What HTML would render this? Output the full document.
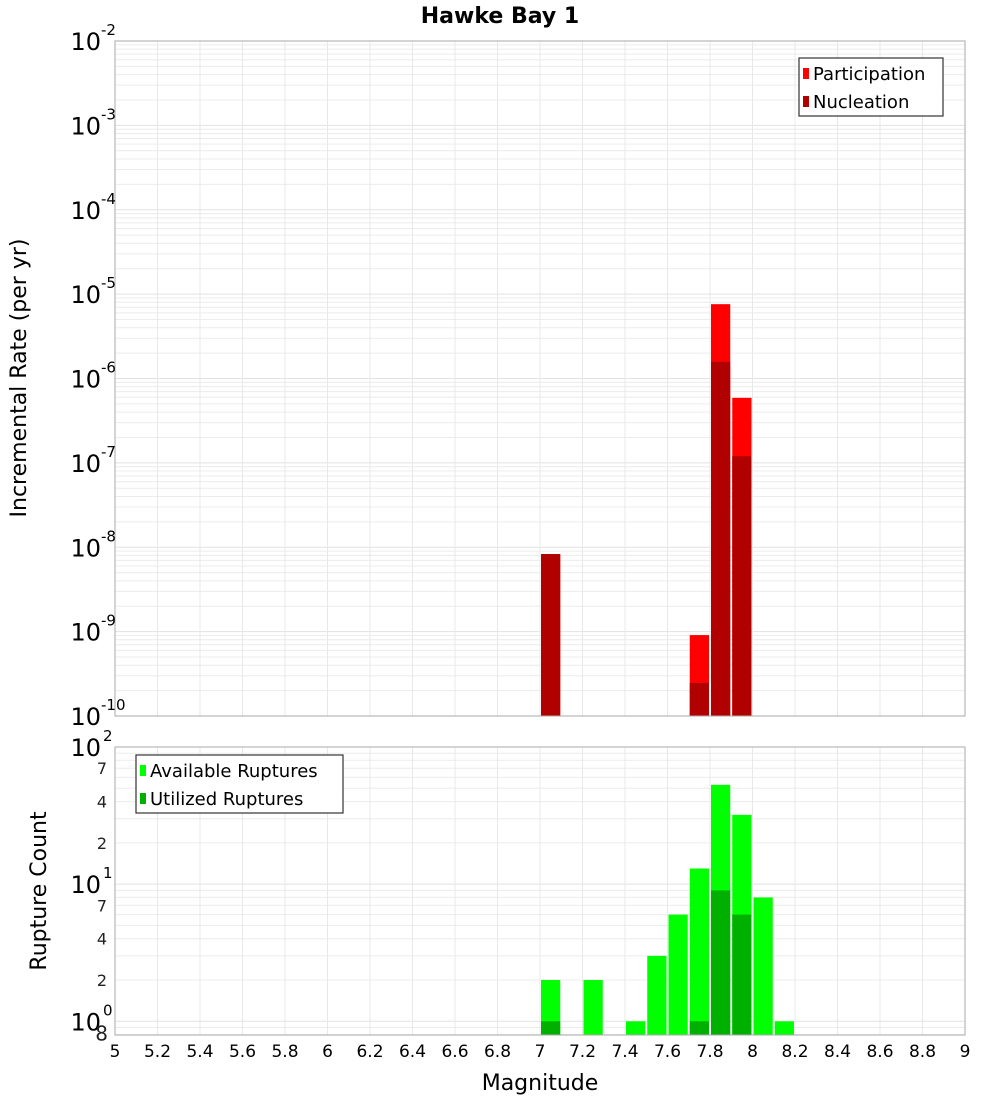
<!DOCTYPE html>
<html><head><meta charset="utf-8"><style>
body{margin:0;background:#fff;}
svg{display:block;font-family:"Liberation Sans","DejaVu Sans",sans-serif;}
</style></head><body>
<svg id="chart" width="1000" height="1100" viewBox="0 0 1000 1100" xmlns="http://www.w3.org/2000/svg">
<rect width="1000" height="1100" fill="#fff"/>
<text x="500" y="23" text-anchor="middle" font-size="22" font-weight="bold" font-family="DejaVu Sans, sans-serif">Hawke Bay 1</text>
<g id="topPlot"></g><g id="botPlot"></g><g id="xax"></g>
<text transform="translate(26,378) rotate(-90)" text-anchor="middle" font-size="22" font-family="DejaVu Sans, sans-serif">Incremental Rate (per yr)</text>
<text transform="translate(46,891) rotate(-90)" text-anchor="middle" font-size="22" font-family="DejaVu Sans, sans-serif">Rupture Count</text>
<text x="540" y="1090" text-anchor="middle" font-size="22" font-family="DejaVu Sans, sans-serif">Magnitude</text>
</svg>
<script>
const rateMags = [7.05, 7.75, 7.85, 7.95];
const participation = [8.3e-9, 9.1e-10, 7.6e-6, 5.9e-7];
const nucleation = [8.3e-9, 2.46e-10, 1.58e-6, 1.2e-7];
const countMags = [7.05, 7.25, 7.45, 7.55, 7.65, 7.75, 7.85, 7.95, 8.05, 8.15];
const available = [2, 2, 1, 3, 6, 13, 53, 32, 8, 1];
const utilized = [1, 0, 0, 0, 0, 1, 9, 6, 0, 0];
const xTicks = [5,5.2,5.4,5.6,5.8,6,6.2,6.4,6.6,6.8,7,7.2,7.4,7.6,7.8,8,8.2,8.4,8.6,8.8,9];
const topExps = [-2,-3,-4,-5,-6,-7,-8,-9,-10];

const NS="http://www.w3.org/2000/svg";
const L=115,R=965;
const X=m=>L+(m-5)/4*(R-L);
const T0=41,T1=716;
const yTop=v=>T0+(-2-Math.log10(v))/8*(T1-T0);
const B0=747,B1=1035,bMin=-0.1,bMax=2;
const yBot=v=>B0+(bMax-Math.log10(v))/(bMax-bMin)*(B1-B0);
function mk(p,tag,at,txt){const e=document.createElementNS(NS,tag);for(const k in at)e.setAttribute(k,at[k]);if(txt!==undefined)e.textContent=txt;p.appendChild(e);return e;}
const gTop=document.getElementById('topPlot'),gBot=document.getElementById('botPlot'),gX=document.getElementById('xax');

function grid(g,y0,y1,yf,lo,hi){
  for(let e=lo;e<hi;e++)for(let k=1;k<10;k++){const v=k*Math.pow(10,e);const y=yf(v);if(y<y0-0.5||y>y1+0.5)continue;
    const ln=mk(g,'line',{x1:L,x2:R,y1:y,y2:y,stroke:k==1?'#e2e2e2':'#ececec','stroke-width':1});
    
    }
  xTicks.forEach(m=>{const ln=mk(g,'line',{x1:X(m),x2:X(m),y1:y0,y2:y1,stroke:'#e8e8e8','stroke-width':1});
    
    });
}
grid(gTop,T0,T1,yTop,-10,-2);
grid(gBot,B0,B1,yBot,-1,2);

function bar(g,m,v,yf,yb,fill,name){const x=X(m-0.05)+1,w=X(m+0.05)-X(m-0.05)-2;const y=yf(v);
  const r=mk(g,'rect',{x:x,y:y,width:w,height:Math.max(0,yb-y),fill:fill});
  
  }
rateMags.forEach((m,i)=>bar(gTop,m,participation[i],yTop,T1,'#ff0000','participation-bar'));
rateMags.forEach((m,i)=>bar(gTop,m,nucleation[i],yTop,T1,'#b00000','nucleation-bar'));
countMags.forEach((m,i)=>{if(available[i]>0)bar(gBot,m,available[i],yBot,B1,'#00ff00','available-bar');});
countMags.forEach((m,i)=>{if(utilized[i]>0)bar(gBot,m,utilized[i],yBot,B1,'#00b000','utilized-bar');});

const f1=mk(gTop,'rect',{x:L,y:T0,width:R-L,height:T1-T0,fill:'none',stroke:'#aaa'});

const f2=mk(gBot,'rect',{x:L,y:B0,width:R-L,height:B1-B0,fill:'none',stroke:'#aaa'});


topExps.forEach(e=>{const y=yTop(Math.pow(10,e));
  const t=mk(gTop,'text',{x:101,y:y+9,'text-anchor':'end','font-size':24,'font-family':'DejaVu Sans, sans-serif'},'10');
  
  const s=mk(gTop,'text',{x:101,y:y-6,'font-size':15,'font-family':'DejaVu Sans, sans-serif'},String(e));
  });
[[2,'10','2'],[1,'10','1'],[0,'10','0']].forEach(a=>{const y=yBot(Math.pow(10,a[0]));
  const t=mk(gBot,'text',{x:101,y:y+9,'text-anchor':'end','font-size':24,'font-family':'DejaVu Sans, sans-serif'},a[1]);
  
  const s=mk(gBot,'text',{x:103,y:y-6,'font-size':15,'font-family':'DejaVu Sans, sans-serif'},a[2]);
  });
[[70,'7'],[40,'4'],[20,'2'],[7,'7'],[4,'4'],[2,'2'],[0.8,'8']].forEach(a=>{const y=yBot(a[0]);
  const t=mk(gBot,'text',{x:a[0]==0.8?108:107,y:y+6,'text-anchor':'end','font-size':a[0]==0.8?20:16,'font-family':'DejaVu Sans, sans-serif',fill:'#222'},a[1]);
  });
xTicks.forEach(m=>{const t=mk(gX,'text',{x:X(m),y:1057,'text-anchor':'middle','font-size':17,'font-family':'DejaVu Sans, sans-serif'},String(m));
  });

function legend(g,x,y,w,items){const b=mk(g,'rect',{x:x,y:y,width:w,height:58,fill:'#fff',stroke:'#333','stroke-width':1.2});
  
  items.forEach((it,i)=>{const r=mk(g,'rect',{x:x+4,y:y+10+i*28,width:6,height:11,fill:it[1]});
    
    const t=mk(g,'text',{x:x+14,y:y+22+i*28,'font-size':18,'font-family':'DejaVu Sans, sans-serif'},it[0]);
    });}
legend(gTop,799,58,144,[['Participation','#ff0000'],['Nucleation','#b00000']]);
legend(gBot,136,755,207,[['Available Ruptures','#00ff00'],['Utilized Ruptures','#00b000']]);
</script>
</body></html>
